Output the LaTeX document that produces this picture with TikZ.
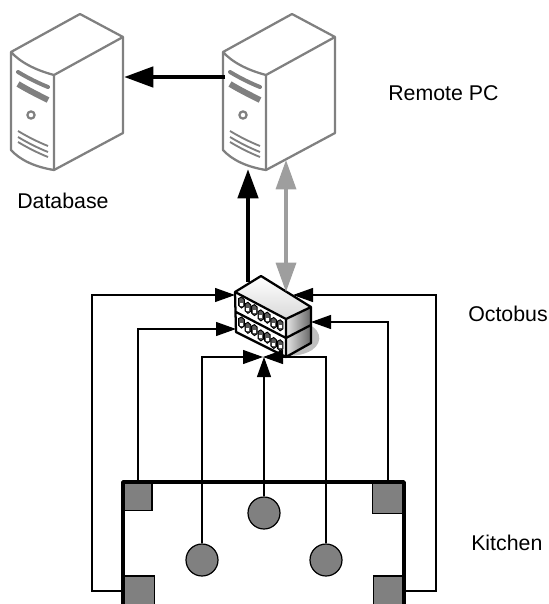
\documentclass[tikz,border=0pt]{standalone}
\usepackage{fontspec}
\setmainfont{Liberation Sans}
\usetikzlibrary{arrows.meta}

\tikzset{
  thickarrow/.style={draw=black,line width=3.5pt,-{Triangle[length=22pt,width=15pt]}},
  greyarrow/.style={draw=black!38,line width=2.6pt,{Triangle[length=22pt,width=15pt]}-{Triangle[length=22pt,width=15pt]}},
  thinarrow/.style={draw=black,line width=0.9pt,-{Triangle[length=15pt,width=10.5pt]}},
  sensor/.style={circle,draw=black,line width=0.9pt,fill=black!50,minimum size=24pt,inner sep=0pt},
  corner/.style={rectangle,draw=black,line width=0.9pt,fill=black!50,inner sep=0pt},
  label/.style={font=\fontsize{16pt}{18pt}\selectfont,inner sep=0pt},
  serverpc/.pic={
    \begin{scope}[draw=black!50,line width=1.7pt,line join=round]
      \draw (11,52) -- (80,14) -- (123,37) -- (54,75) .. controls (35,70) and (20,62) .. (11,52)
            -- (11,150) .. controls (20,160) and (35,167) .. (54,170) -- (54,75);
      \draw (54,170) -- (123,133) -- (123,37);
      \draw[line width=3pt,line cap=round] (18,72) .. controls (28,78) and (38,83) .. (48,87);
      \draw[line width=4.5pt] (18,84) .. controls (28,90) and (38,95) .. (48,100);
      \draw[line width=1.7pt] (31,115) circle (3.6);
      \foreach \ypos in {131,137,142}
        \draw[line width=1.4pt] (18,\ypos) .. controls (28,\ypos+6) and (38,\ypos+11) .. (48,\ypos+15);
    \end{scope}
    \coordinate (-east) at (124,77);
    \coordinate (-west) at (13,77);
  },
  switchport/.pic={
    \draw[black,line width=0.7pt,fill=black!65] (-2.8,-4) -- (0,-5.5) -- (2.8,-3) -- (2.8,3.5) -- (0,5.5) -- (-2.8,3) -- cycle;
    \fill[white] (-1.5,0) rectangle (1.5,3);
  }
}

\begin{document}
\begin{tikzpicture}[x=0.75pt,y=-0.75pt]
  \useasboundingbox (0,0) rectangle (549,604);

  % servers
  \pic (database) at (0,0) {serverpc};
  \pic (remote) at (212,0) {serverpc};
  \coordinate (remoteup1) at (248,169);
  \coordinate (remoteup2) at (286,160);

  % octobus
  \fill[black!25] (300,322) .. controls (322,326) and (324,342) .. (312,350) .. controls (304,355) and (292,357) .. (284,355) -- cycle;
  \shade[top color=white,bottom color=black!15] (235,292) -- (261,276) -- (311,307) -- (286,319) -- cycle;
  \shade[left color=black!10,right color=black!60] (286,319) -- (311,307) -- (311,343) -- (286,357) -- cycle;
  \fill[white] (235,292) -- (286,319) -- (286,357) -- (236,332) -- cycle;
  \foreach \row in {0,1}
    \foreach \port in {0,...,6}
      \pic at ({241.5+\port*6.45},{302.5+\row*20+\port*3.8+mod(\port,2)*1.5}) {switchport};
  \draw[black,line width=1.7pt,line join=round]
    (235,292) -- (261,276) -- (311,307) -- (311,343) -- (286,357) -- (236,332) -- cycle
    (235,292) -- (286,319) -- (286,357)
    (286,319) -- (311,307)
    (236,312) -- (286,338) -- (311,325);

  \coordinate (octobusup) at (248,282);
  \coordinate (octobusgrey) at (286,292);
  \coordinate (octobusa) at (235,295);
  \coordinate (octobusb) at (236,329);
  \coordinate (octobusc) at (293,295);
  \coordinate (octobusd) at (311,322);
  \coordinate (octobuse) at (263,357);

  % kitchen
  \node[corner,minimum width=21pt,minimum height=21pt] (cornerA) at (138,496.5) {};
  \node[corner,minimum width=23pt,minimum height=23pt] (cornerB) at (388,498) {};
  \node[corner,minimum width=23pt,minimum height=24pt] (cornerC) at (139.5,592) {};
  \node[corner,minimum width=23pt,minimum height=24pt] (cornerD) at (388.5,592) {};
  \node[sensor] (sensorA) at (202,560) {};
  \node[sensor] (sensorB) at (264,513) {};
  \node[sensor] (sensorC) at (326,560) {};
  \draw[black,line width=2.8pt,line join=round] (123,604) -- (123,482) -- (404,482) -- (404,604);

  % connections
  \draw[thickarrow] (remote-west) -- (database-east);
  \draw[thickarrow] (octobusup) -- (remoteup1);
  \draw[greyarrow] (remoteup2) -- (octobusgrey);
  \coordinate (outerA) at (92,295);
  \coordinate (outerB) at (436,295);
  \draw[thinarrow] (cornerC.west |- 0,591) -| (outerA) -- (octobusa);
  \draw[thinarrow] (cornerD.east |- 0,591) -| (outerB) -- (octobusc);
  \draw[thinarrow] (cornerA.north) |- (octobusb);
  \draw[thinarrow] (cornerB.north) |- (octobusd);
  \draw[thinarrow] (sensorA.north) |- (octobuse);
  \draw[thinarrow] (sensorC.north) |- (octobuse);
  \draw[thinarrow] (sensorB.north) -- (octobuse -| sensorB.north);

  % labels
  \node[label,anchor=base west] (labelremote) at (388,100) {Remote PC};
  \node[label,anchor=base west] (labeldatabase) at (17,208) {Database};
  \node[label,anchor=base west] (labeloctobus) at (468,321) {Octobus};
  \node[label,anchor=base west] (labelkitchen) at (471,550) {Kitchen};
\end{tikzpicture}
\end{document}
